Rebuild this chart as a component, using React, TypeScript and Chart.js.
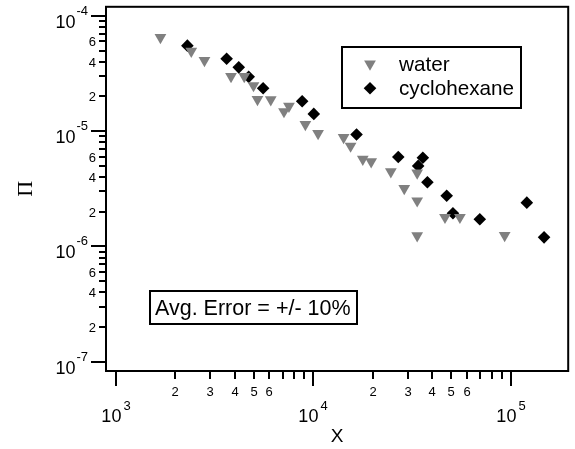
import React, { useEffect, useRef } from 'react';
import { Chart, registerables } from 'chart.js';

Chart.register(...registerables);

// ---- data ----
const seriesNames = ['water', 'cyclohexane'];
const waterX = [1684, 2412, 2813, 3833, 4472, 4981, 5217, 6091, 7106, 7530, 9116, 10571, 14236, 15440, 17800, 19628, 24690, 33550, 28860, 33550, 46400, 55200, 33550, 93000];
const waterY = [6.5e-5, 4.94e-5, 4.11e-5, 2.99e-5, 2.99e-5, 2.49e-5, 1.89e-5, 1.88e-5, 1.48e-5, 1.65e-5, 1.145e-5, 9.57e-6, 8.84e-6, 7.43e-6, 5.71e-6, 5.43e-6, 4.45e-6, 4.35e-6, 3.19e-6, 2.49e-6, 1.79e-6, 1.79e-6, 1.242e-6, 1.245e-6];
const cycloX = [2305, 3642, 4195, 4710, 5572, 8783, 10058, 16550, 26920, 35840, 33940, 37800, 47320, 50900, 69600, 120400, 147200];
const cycloY = [5.52e-5, 4.25e-5, 3.58e-5, 2.96e-5, 2.36e-5, 1.82e-5, 1.413e-5, 9.35e-6, 5.97e-6, 5.89e-6, 5.0e-6, 3.61e-6, 2.75e-6, 1.94e-6, 1.72e-6, 2.4e-6, 1.2e-6];

const xTitle = 'X';
const yTitle = 'Π';
const noteText = 'Avg. Error = +/- 10%';
const xDecades = [3, 4, 5];
const yDecades = [-7, -6, -5, -4];
const xMinorLabels = [2, 3, 4, 5, 6];
const yMinorLabels = [2, 4, 6];
const xMin = 893;
const xMax = 195000;
const yMin = 8.31e-8;
const yMax = 1.2e-4;

const SANS = '"Liberation Sans", Arial, Helvetica, sans-serif';
const SERIF = '"Liberation Serif", "Times New Roman", serif';
const GRAY = '#808080';

const axesPlugin = {
  id: 'igorAxes',
  afterDraw(chart: any) {
    const { ctx, chartArea, scales } = chart;
    const { left, top, right, bottom } = chartArea;
    const xs = scales.x;
    const ys = scales.y;
    ctx.save();
    ctx.strokeStyle = '#000';
    ctx.fillStyle = '#000';
    ctx.lineWidth = 2;
    ctx.strokeRect(left, top, right - left, bottom - top);

    // X ticks
    for (const d of xDecades) {
      for (let m = 1; m <= 9; m++) {
        const v = m * Math.pow(10, d);
        if (v < xMin || v > xMax) continue;
        const px = Math.round(xs.getPixelForValue(v));
        const len = m === 1 ? 15 : 8;
        ctx.beginPath();
        ctx.moveTo(px, bottom);
        ctx.lineTo(px, bottom + len);
        ctx.stroke();
        if (m === 1) {
          ctx.font = `18px ${SANS}`;
          const w10 = ctx.measureText('10').width;
          ctx.font = `13px ${SANS}`;
          const sup = String(d);
          const ws = ctx.measureText(sup).width;
          const start = px - (w10 + 2 + ws) / 2;
          ctx.textAlign = 'left';
          ctx.textBaseline = 'alphabetic';
          ctx.font = `18px ${SANS}`;
          ctx.fillText('10', start, bottom + 51);
          ctx.font = `13px ${SANS}`;
          ctx.fillText(sup, start + w10 + 2, bottom + 39);
        } else if (xMinorLabels.includes(m)) {
          ctx.font = `13px ${SANS}`;
          ctx.textAlign = 'center';
          ctx.textBaseline = 'alphabetic';
          ctx.fillText(String(m), px, bottom + 25);
        }
      }
    }

    // Y ticks
    for (const d of yDecades) {
      for (let m = 1; m <= 9; m++) {
        const v = m * Math.pow(10, d);
        if (v < yMin || v > yMax) continue;
        const py = Math.round(ys.getPixelForValue(v));
        const len = m === 1 ? 15 : 7;
        ctx.beginPath();
        ctx.moveTo(left, py);
        ctx.lineTo(left - len, py);
        ctx.stroke();
        if (m === 1) {
          const sup = String(d);
          ctx.font = `13px ${SANS}`;
          const ws = ctx.measureText(sup).width;
          const supX = 88 - ws;
          ctx.textAlign = 'left';
          ctx.textBaseline = 'alphabetic';
          ctx.fillText(sup, supX, py - 1);
          ctx.font = `18px ${SANS}`;
          ctx.textAlign = 'right';
          ctx.fillText('10', supX - 1, py + 11.5);
        } else if (yMinorLabels.includes(m)) {
          ctx.font = `13px ${SANS}`;
          ctx.textAlign = 'right';
          ctx.textBaseline = 'alphabetic';
          ctx.fillText(String(m), 96, py + 4.7);
        }
      }
    }

    // axis titles
    ctx.font = `19px ${SANS}`;
    ctx.textAlign = 'center';
    ctx.textBaseline = 'alphabetic';
    ctx.fillText(xTitle, (left + right) / 2, 441.5);

    ctx.save();
    ctx.translate(31.5, (top + bottom) / 2);
    ctx.rotate(-Math.PI / 2);
    ctx.font = `22px ${SERIF}`;
    ctx.textAlign = 'center';
    ctx.fillText(yTitle, 0, 0);
    ctx.restore();

    // legend box
    ctx.lineWidth = 2;
    ctx.strokeRect(342, 47, 179, 61);
    ctx.fillStyle = GRAY;
    const r = 6.8;
    const tx = 370, ty = 64;
    ctx.beginPath();
    ctx.moveTo(tx, ty + r);
    ctx.lineTo(tx - r * Math.sin(Math.PI / 3), ty - r / 2);
    ctx.lineTo(tx + r * Math.sin(Math.PI / 3), ty - r / 2);
    ctx.closePath();
    ctx.fill();
    ctx.fillStyle = '#000';
    const dr = 6.3, dx = 370, dy = 88.3;
    ctx.beginPath();
    ctx.moveTo(dx - dr, dy);
    ctx.lineTo(dx, dy - dr);
    ctx.lineTo(dx + dr, dy);
    ctx.lineTo(dx, dy + dr);
    ctx.closePath();
    ctx.fill();
    ctx.font = `20.7px ${SANS}`;
    ctx.textAlign = 'left';
    ctx.fillText(seriesNames[0], 399, 71);
    ctx.fillText(seriesNames[1], 399, 94.5);

    // note box
    ctx.strokeRect(150, 291, 207, 33);
    ctx.font = `21.5px ${SANS}`;
    ctx.fillText(noteText, 155, 314.5);
    ctx.restore();
  },
};

export default function App() {
  const ref = useRef<HTMLCanvasElement>(null);
  useEffect(() => {
    const canvas = ref.current;
    if (!canvas) return;
    const chart = new Chart(canvas, {
      type: 'scatter',
      data: {
        datasets: [
          {
            label: seriesNames[0],
            data: waterX.map((x, i) => ({ x, y: waterY[i] })),
            pointStyle: 'triangle',
            pointRotation: 180,
            pointRadius: 6.8,
            pointBackgroundColor: GRAY,
            pointBorderColor: GRAY,
            pointBorderWidth: 0,
            order: 0,
          } as any,
          {
            label: seriesNames[1],
            data: cycloX.map((x, i) => ({ x, y: cycloY[i] })),
            pointStyle: 'rectRot',
            pointRadius: 6.3,
            pointBackgroundColor: '#000',
            pointBorderColor: '#000',
            pointBorderWidth: 0,
            order: 1,
          } as any,
        ],
      },
      options: {
        responsive: false,
        animation: false,
        events: [],
        layout: { padding: { left: 106, top: 5, right: 4, bottom: 78 } },
        scales: {
          x: { type: 'logarithmic', min: xMin, max: xMax, display: false },
          y: { type: 'logarithmic', min: yMin, max: yMax, display: false },
        },
        plugins: { legend: { display: false }, tooltip: { enabled: false } },
      },
      plugins: [axesPlugin],
    });
    return () => chart.destroy();
  }, []);
  return (
    <div style={{ position: 'fixed', left: 0, top: 0, width: 575, height: 449, background: '#fff' }}>
      <canvas ref={ref} width={575} height={449} style={{ display: 'block' }} />
    </div>
  );
}
